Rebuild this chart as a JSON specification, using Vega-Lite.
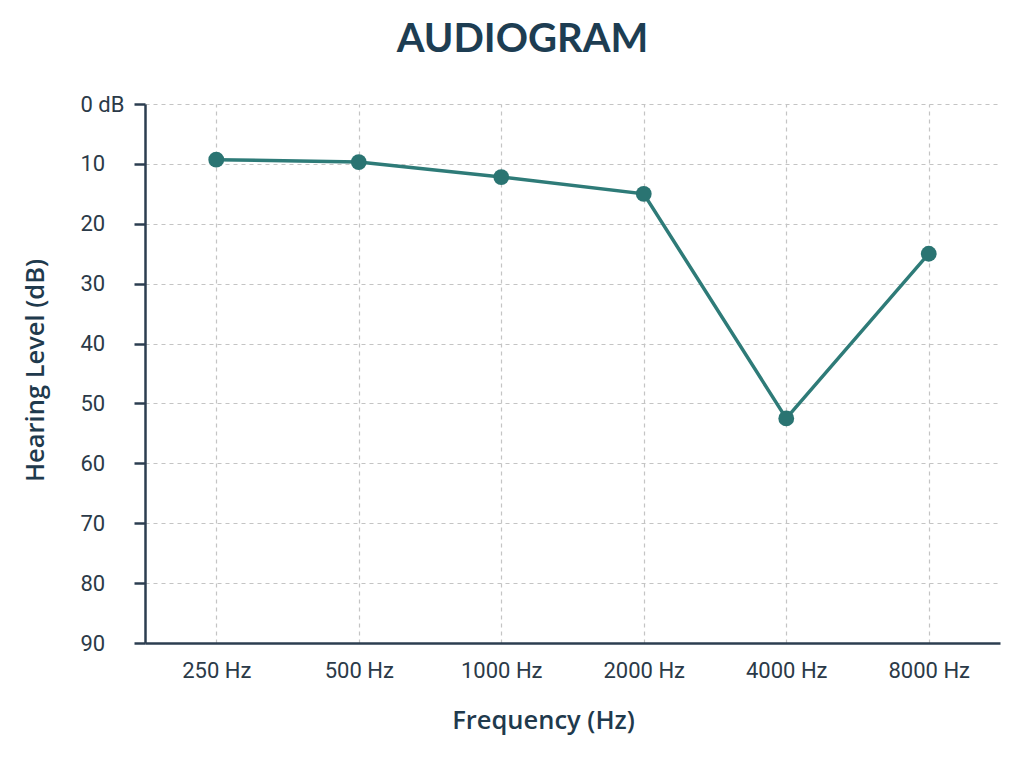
{
  "$schema": "https://vega.github.io/schema/vega-lite/v6.json",
  "autosize": "none",
  "width": 855,
  "height": 539,
  "padding": {"left": 145, "top": 104, "right": 24, "bottom": 120},
  "background": "#ffffff",
  "title": {
    "text": "AUDIOGRAM",
    "fontSize": 40,
    "fontWeight": "bold",
    "font": "Lato",
    "color": "#1d3d52",
    "anchor": "middle",
    "frame": "group",
    "baseline": "alphabetic",
    "offset": 1,
    "dx": -50
  },
  "data": {
    "values": [
      {"frequency": "250 Hz", "level": 9.3},
      {"frequency": "500 Hz", "level": 9.7},
      {"frequency": "1000 Hz", "level": 12.2},
      {"frequency": "2000 Hz", "level": 15.0},
      {"frequency": "4000 Hz", "level": 52.5},
      {"frequency": "8000 Hz", "level": 25.0}
    ]
  },
  "config": {
    "view": {"stroke": null},
    "font": "Roboto",
    "axis": {
      "domainColor": "#2c3e50",
      "domainWidth": 2.5,
      "tickColor": "#2c3e50",
      "tickWidth": 2.5,
      "gridColor": "#c4c4c4",
      "gridDash": [4, 4],
      "gridWidth": 1.2,
      "labelColor": "#2b3a48",
      "labelFont": "Roboto",
      "labelFontSize": 22,
      "titleColor": "#1f3a4d",
      "titleFont": "Open Sans",
      "titleFontSize": 25.5,
      "titleFontWeight": 600
    }
  },
  "encoding": {
    "x": {
      "field": "frequency",
      "type": "ordinal",
      "sort": null,
      "scale": {"type": "point", "padding": 0.5},
      "axis": {
        "title": "Frequency (Hz)",
        "labelAngle": 0,
        "ticks": false,
        "tickSize": 0,
        "labelPadding": 17,
        "grid": true,
        "titleX": 398,
        "titleY": 85,
        "titleBaseline": "alphabetic",
        "titleAlign": "center"
      }
    },
    "y": {
      "field": "level",
      "type": "quantitative",
      "scale": {"domain": [0, 90], "reverse": true, "nice": false, "zero": false},
      "axis": {
        "title": "Hearing Level (dB)",
        "values": [0, 10, 20, 30, 40, 50, 60, 70, 80, 90],
        "labelExpr": "datum.value === 0 ? '0 dB' : datum.label",
        "tickSize": 11,
        "labelAlign": "left",
        "labelPadding": 54,
        "labelBaseline": "middle",
        "grid": true,
        "titleX": -110,
        "titleY": 266,
        "titleAngle": -90,
        "titleAlign": "center",
        "titleBaseline": "middle"
      }
    }
  },
  "layer": [
    {
      "mark": {"type": "line", "color": "#2e7b78", "strokeWidth": 3.5}
    },
    {
      "mark": {"type": "point", "filled": true, "color": "#2a7472", "size": 250, "opacity": 1}
    }
  ]
}
